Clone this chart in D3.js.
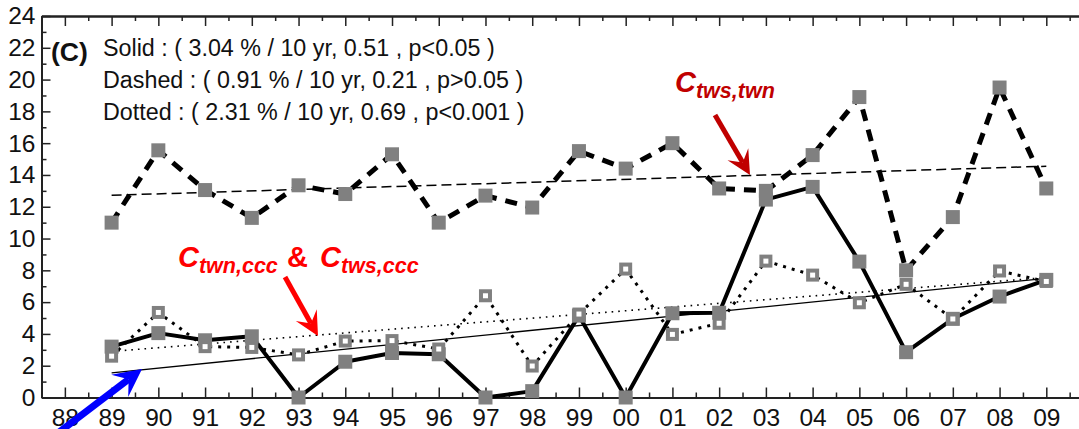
<!DOCTYPE html>
<html>
<head>
<meta charset="utf-8">
<script src="https://cdn.jsdelivr.net/npm/d3@7"></script>
<style>
  html, body { margin: 0; padding: 0; background: #fff; }
  svg { display: block; font-family: "Liberation Sans", Arial, sans-serif; }
</style>
</head>
<body>
<svg id="chart" width="1079" height="429"></svg>
<script>
// Years of record (1989-2009)
const years = [1989, 1990, 1991, 1992, 1993, 1994, 1995, 1996, 1997, 1998, 1999,
               2000, 2001, 2002, 2003, 2004, 2005, 2006, 2007, 2008, 2009];

// C_twn,ccc (solid line, filled squares)
const twnCcc = [3.2, 4.05, 3.6, 3.85, 0.0, 2.25, 2.8, 2.72, 0.0, 0.4, 5.15,
                0.0, 5.3, 5.33, 12.45, 13.25, 8.55, 2.85, 4.95, 6.35, 7.4];
// C_tws,twn (dashed line, filled squares)
const twsTwn = [11.0, 15.55, 13.05, 11.3, 13.35, 12.8, 15.3, 11.0, 12.7, 11.95, 15.5,
                14.4, 16.0, 13.15, 13.0, 15.25, 18.9, 8.0, 11.35, 19.5, 13.15];
// C_tws,ccc (dotted line, open squares)
const twsCcc = [2.6, 5.35, 3.2, 3.15, 2.68, 3.55, 3.58, 3.05, 6.4, 1.98, 5.25,
                8.08, 3.97, 4.67, 8.58, 7.7, 5.96, 7.12, 4.94, 7.96, 7.3];

// Linear trends, values at the first and last year
const trendYears = [1989, 2009];
const solidTrend = [1.55, 7.5];
const dashedTrend = [12.72, 14.55];
const dottedTrend = [2.9, 7.55];

// Axis ticks
const xTickYears = d3.range(1988, 2010);
const yMajorTicks = [0, 2, 4, 6, 8, 10, 12, 14, 16, 18, 20, 22, 24];
const yMinorTicks = [1, 3, 5, 7, 9, 11, 13, 15, 17, 19, 21, 23];

// Trend statistics
const statLines = [
  "Solid : ( 3.04 % / 10 yr, 0.51 , p<0.05 )",
  "Dashed : ( 0.91 % / 10 yr, 0.21 , p>0.05 )",
  "Dotted : ( 2.31 % / 10 yr, 0.69 , p<0.001 )"
];

const svg = d3.select("#chart");
const x = d3.scaleLinear().domain([1987.5, 2010.5]).range([41.5, 1116.4]);
const y = d3.scaleLinear().domain([0, 24]).range([397.5, 16]);

const axisColor = "#222";
const tickFont = 24.5;

function styleAxis(g) {
  g.selectAll("path.domain").attr("stroke", axisColor).attr("stroke-width", 2);
  g.selectAll(".tick line").attr("stroke", axisColor).attr("stroke-width", 1.5);
  g.selectAll(".tick text").attr("fill", "#111").attr("font-size", tickFont)
    .attr("font-family", "'Liberation Sans', Arial, sans-serif");
}

// Bottom axis
const minorX = xTickYears.map(v => v + 0.5).concat([1987.5]);
svg.append("g").attr("transform", `translate(0,${y(0)})`)
  .call(d3.axisBottom(x).tickValues(minorX).tickSize(-5).tickSizeOuter(0).tickFormat(""))
  .call(styleAxis);
svg.append("g").attr("transform", `translate(0,${y(0)})`)
  .call(d3.axisBottom(x).tickValues(xTickYears).tickSize(-10).tickSizeOuter(0)
        .tickPadding(11.5).tickFormat(d => String(d).slice(2)))
  .call(styleAxis);

// Top axis
svg.append("g").attr("transform", `translate(0,${y(24)})`)
  .call(d3.axisTop(x).tickValues(minorX).tickSize(-5).tickSizeOuter(0).tickFormat(""))
  .call(styleAxis);
svg.append("g").attr("transform", `translate(0,${y(24)})`)
  .call(d3.axisTop(x).tickValues(xTickYears).tickSize(-10).tickSizeOuter(0).tickFormat(""))
  .call(styleAxis);

// Left axis
svg.append("g").attr("transform", `translate(${x(1987.5)},0)`)
  .call(d3.axisLeft(y).tickValues(yMinorTicks).tickSize(-5).tickSizeOuter(0).tickFormat(""))
  .call(styleAxis);
svg.append("g").attr("transform", `translate(${x(1987.5)},0)`)
  .call(d3.axisLeft(y).tickValues(yMajorTicks).tickSize(-9).tickSizeOuter(0).tickPadding(6))
  .call(styleAxis);

// Right axis
svg.append("g").attr("transform", `translate(${x(2010.5)},0)`)
  .call(d3.axisRight(y).tickValues(yMajorTicks).tickSize(-9).tickSizeOuter(0).tickFormat(""))
  .call(styleAxis);

const line = d3.line().x(d => x(d[0])).y(d => y(d[1]));
const pairs = vals => years.map((yr, i) => [yr, vals[i]]);

// Series lines
svg.append("path").datum(pairs(twsTwn)).attr("d", line)
  .attr("fill", "none").attr("stroke", "#000").attr("stroke-width", 5)
  .attr("stroke-dasharray", "12,9");
svg.append("path").datum(pairs(twsCcc)).attr("d", line)
  .attr("fill", "none").attr("stroke", "#000").attr("stroke-width", 3)
  .attr("stroke-dasharray", "3,6");
svg.append("path").datum(pairs(twnCcc)).attr("d", line)
  .attr("fill", "none").attr("stroke", "#000").attr("stroke-width", 4)
  .attr("stroke-linejoin", "round");

// Trend lines
const trend = vals => trendYears.map((yr, i) => [yr, vals[i]]);
svg.append("path").datum(trend(dashedTrend)).attr("d", line)
  .attr("fill", "none").attr("stroke", "#000").attr("stroke-width", 1.5)
  .attr("stroke-dasharray", "10,5");
svg.append("path").datum(trend(dottedTrend)).attr("d", line)
  .attr("fill", "none").attr("stroke", "#000").attr("stroke-width", 1.6)
  .attr("stroke-dasharray", "1.6,5");
svg.append("path").datum(trend(solidTrend)).attr("d", line)
  .attr("fill", "none").attr("stroke", "#000").attr("stroke-width", 1.3);

// Filled squares
const sq = 14;
function filledSquares(vals) {
  svg.append("g").selectAll("rect").data(pairs(vals)).join("rect")
    .attr("x", d => x(d[0]) - sq / 2).attr("y", d => y(d[1]) - sq / 2)
    .attr("width", sq).attr("height", sq)
    .attr("fill", "#808080");
}
filledSquares(twsTwn);
filledSquares(twnCcc);

// Open squares
svg.append("g").selectAll("rect").data(pairs(twsCcc)).join("rect")
  .attr("x", d => x(d[0]) - 4.5).attr("y", d => y(d[1]) - 4.5)
  .attr("width", 9).attr("height", 9)
  .attr("fill", "#fff").attr("stroke", "#808080").attr("stroke-width", 4);

// Panel label and statistics
svg.append("text").attr("x", 51).attr("y", 61)
  .attr("font-size", 26.5).attr("font-weight", "bold").attr("fill", "#111").text("(C)");
svg.append("g").selectAll("text").data(statLines).join("text")
  .attr("x", 103).attr("y", (d, i) => 56 + i * 32)
  .attr("font-size", 23.3).attr("fill", "#111").text(d => d);

// Subscripted labels
function subLabel(xPos, yPos, main, sub, color) {
  const t = svg.append("text").attr("x", xPos).attr("y", yPos)
    .attr("font-weight", "bold").attr("font-style", "italic").attr("fill", color);
  t.append("tspan").attr("font-size", 29).text(main);
  t.append("tspan").attr("font-size", 21.5).attr("dy", 6).text(sub);
}
subLabel(675, 92, "C", "tws,twn", "#c00000");
subLabel(178, 267, "C", "twn,ccc", "#ff0000");
svg.append("text").attr("x", 287).attr("y", 267).attr("font-size", 29)
  .attr("font-weight", "bold").attr("fill", "#ff0000").text("&");
subLabel(320, 267, "C", "tws,ccc", "#ff0000");

// Arrows
function arrow(x0, y0, x1, y1, w, L, H, color) {
  const dx = x1 - x0, dy = y1 - y0, len = Math.hypot(dx, dy);
  const ux = dx / len, uy = dy / len, nx = -uy, ny = ux;
  const bx = x1 - L * ux, by = y1 - L * uy;
  const nkx = x1 - 0.6 * L * ux, nky = y1 - 0.6 * L * uy;
  svg.append("line").attr("x1", x0).attr("y1", y0).attr("x2", nkx).attr("y2", nky)
    .attr("stroke", color).attr("stroke-width", w);
  svg.append("path")
    .attr("d", `M${x1},${y1} L${bx + H * nx},${by + H * ny} L${nkx},${nky} L${bx - H * nx},${by - H * ny} Z`)
    .attr("fill", color);
}
arrow(715, 115, 750, 175, 5, 24, 12, "#c00000");
arrow(285, 277, 318, 336, 5, 24, 12, "#ff0000");
arrow(54, 436, 142, 369, 7, 28, 14, "#0000ff");
</script>
</body>
</html>
